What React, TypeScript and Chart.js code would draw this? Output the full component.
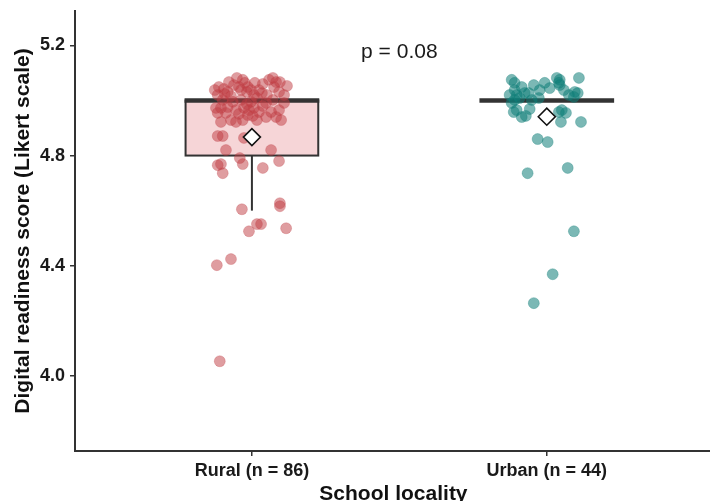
import React, { useEffect, useRef } from "react";
import { Chart, registerables } from "chart.js";

Chart.register(...registerables);

const categories = ["Rural (n = 86)", "Urban (n = 44)"];
const yTickValues = [4.0, 4.4, 4.8, 5.2];
const xTitle = "School locality";
const yTitle = "Digital readiness score (Likert scale)";
const pLabel = "p = 0.08";
const pLabelScore = 5.176;

// Box summaries per category
const q1 = [4.8, 5.0];
const medians = [5.0, 5.0];
const q3 = [5.0, 5.0];
const whiskerLow = [4.6, 5.0];
const whiskerHigh = [5.0, 5.0];
const means = [4.867, 4.941];

// Jittered observations (horizontal jitter offset, plotted score)
const ruralJitter = [
  -0.078, -0.061, -0.031, -0.024, 0.01, 0.058, 0.071, 0.082, 0.095, -0.112,
  -0.095, -0.082, -0.116, -0.044, -0.014, -0.003, 0.024, 0.034, 0.075, 0.109,
  0.007, -0.099, -0.065, -0.037, -0.003, 0.048, 0.071, 0.109, -0.122, -0.105,
  -0.082, -0.054, -0.027, -0.01, 0.007, 0.024, 0.048, 0.082, 0.099, 0.092,
  -0.105, -0.071, -0.054, -0.031, -0.014, -0.088, -0.116, -0.051, 0.037, -0.017,
  0.051, -0.071, 0.017, -0.017, 0.037, -0.044, 0.065, 0.003, -0.092, 0.119,
  -0.126, 0.092, 0.017, -0.037, -0.116, -0.099, -0.027, -0.088, 0.065, -0.041,
  -0.031, -0.116, -0.105, -0.099, 0.037, 0.092, -0.034, 0.095, 0.095, 0.017,
  0.031, -0.01, 0.116, -0.119, -0.071, -0.109,
];
const ruralScores = [
  5.067, 5.056, 5.075, 5.064, 5.064, 5.075, 5.082, 5.067, 5.067, 5.049,
  5.042, 5.031, 5.02, 5.049, 5.049, 5.038, 5.038, 5.027, 5.049, 5.02,
  5.02, 5.002, 4.995, 5.002, 4.995, 4.991, 5.002, 4.991, 4.973, 4.973,
  4.976, 4.965, 4.973, 4.965, 4.973, 4.958, 4.94, 4.94, 4.929, 4.965,
  4.922, 4.929, 4.922, 4.929, 4.947, 4.955, 4.955, 5.082, 5.06, 5.031,
  5.02, 5.016, 5.009, 4.987, 4.98, 4.951, 4.958, 4.944, 5.024, 5.053,
  5.038, 5.031, 4.929, 5.038, 4.871, 4.871, 4.864, 4.82, 4.82, 4.791,
  4.769, 4.765, 4.769, 4.736, 4.755, 4.78, 4.605, 4.627, 4.616, 4.551,
  4.551, 4.525, 4.536, 4.402, 4.424, 4.053,
];
const urbanJitter = [
  -0.119, -0.109, -0.109, -0.102, -0.085, -0.075, -0.061, -0.044, -0.024, -0.007,
  0.034, 0.044, 0.044, 0.041, 0.109, 0.075, 0.095, 0.105, 0.092, -0.027,
  -0.119, -0.109, -0.112, -0.102, -0.085, -0.071, -0.058, 0.041, 0.051, 0.065,
  0.048, 0.116, -0.031, 0.003, -0.065, 0.071, 0.092, 0.02, -0.044, -0.092,
  0.01, -0.051, 0.058, -0.126,
];
const urbanScores = [
  5.075, 5.064, 5.038, 5.02, 5.049, 5.027, 5.027, 5.056, 5.038, 5.064,
  5.082, 5.075, 5.056, 5.064, 5.082, 5.02, 5.031, 5.027, 5.013, 5.009,
  4.991, 5.002, 4.958, 4.965, 4.94, 4.944, 4.969, 4.958, 4.965, 4.955,
  4.922, 4.922, 4.86, 4.849, 4.736, 4.755, 4.525, 4.369, 4.264, 5.009,
  5.045, 5.002, 5.038, 5.02,
];

const FONT = "'Liberation Sans', Arial, Helvetica, sans-serif";
const BOX_HALF = 0.225;

const zeroPad = (s: any) => {
  s.paddingTop = 0;
  s.paddingBottom = 0;
  s.paddingLeft = 0;
  s.paddingRight = 0;
};

const boxPlugin = {
  id: "boxes",
  beforeDatasetsDraw(chart: any) {
    const { ctx, scales } = chart;
    const x = scales.x;
    const y = scales.y;
    ctx.save();
    categories.forEach((_, i) => {
      const cx = x.getPixelForValue(i + 1);
      const l = x.getPixelForValue(i + 1 - BOX_HALF);
      const r = x.getPixelForValue(i + 1 + BOX_HALF);
      const yq1 = y.getPixelForValue(q1[i]);
      const yq3 = y.getPixelForValue(q3[i]);
      const ymed = y.getPixelForValue(medians[i]);
      const ylo = y.getPixelForValue(whiskerLow[i]);
      const yhi = y.getPixelForValue(whiskerHigh[i]);
      ctx.strokeStyle = "#333333";
      ctx.lineWidth = 2;
      ctx.beginPath();
      ctx.moveTo(cx, yq1);
      ctx.lineTo(cx, ylo);
      ctx.moveTo(cx, yq3);
      ctx.lineTo(cx, yhi);
      ctx.stroke();
      if (Math.abs(yq1 - yq3) > 0.5) {
        ctx.fillStyle = i === 0 ? "#F6D5D7" : "#CFE6E5";
        ctx.fillRect(l, yq3, r - l, yq1 - yq3);
        ctx.strokeRect(l, yq3, r - l, yq1 - yq3);
      }
      ctx.lineWidth = 4.5;
      ctx.lineCap = "butt";
      ctx.beginPath();
      ctx.moveTo(l - 1, ymed);
      ctx.lineTo(r + 1, ymed);
      ctx.stroke();
    });
    ctx.restore();
  },
  afterDatasetsDraw(chart: any) {
    const { ctx, scales } = chart;
    ctx.save();
    ctx.font = `21px ${FONT}`;
    ctx.fillStyle = "#1a1a1a";
    ctx.textAlign = "center";
    ctx.textBaseline = "middle";
    ctx.fillText(pLabel, scales.x.getPixelForValue(1.5), scales.y.getPixelForValue(pLabelScore));
    ctx.restore();
  },
};

export default function App() {
  const ref = useRef<HTMLCanvasElement | null>(null);
  useEffect(() => {
    document.body.style.margin = "0";
    if (!ref.current) return;
    const rural = ruralScores.map((v, i) => ({ x: 1 + ruralJitter[i], y: v }));
    const urban = urbanScores.map((v, i) => ({ x: 2 + urbanJitter[i], y: v }));
    const meanPts = means.map((v, i) => ({ x: i + 1, y: v }));
    const chart = new Chart(ref.current, {
      type: "scatter",
      data: {
        datasets: [
          {
            label: "Mean",
            data: meanPts,
            pointStyle: "rectRot",
            pointRadius: 8.5,
            backgroundColor: "#ffffff",
            borderColor: "#111111",
            borderWidth: 1.6,
          },
          {
            label: categories[0],
            data: rural,
            pointRadius: 5.5,
            backgroundColor: "rgba(192,60,66,0.5)",
            borderColor: "rgba(192,60,66,0.25)",
            borderWidth: 1,
          },
          {
            label: categories[1],
            data: urban,
            pointRadius: 5.5,
            backgroundColor: "rgba(15,125,120,0.55)",
            borderColor: "rgba(15,125,120,0.3)",
            borderWidth: 1,
          },
        ],
      },
      options: {
        responsive: false,
        animation: false,
        events: [],
        layout: { padding: { top: 11, right: 0, left: 0, bottom: 0 } },
        plugins: { legend: { display: false }, tooltip: { enabled: false } },
        scales: {
          x: {
            type: "linear",
            min: 0.4,
            max: 2.56,
            afterBuildTicks: (s: any) => {
              s.ticks = categories.map((_, i) => ({ value: i + 1 }));
            },
            afterFit: (s: any) => {
              s.height = 50;
              zeroPad(s);
            },
            ticks: {
              autoSkip: false,
              maxRotation: 0,
              padding: 4,
              color: "#1a1a1a",
              font: { family: FONT, size: 18, weight: "bold" },
              callback: (v: any) => categories[Math.round(Number(v)) - 1] ?? "",
            },
            grid: {
              display: true,
              drawOnChartArea: false,
              drawTicks: true,
              tickLength: 5,
              color: "#333333",
              lineWidth: 1.5,
            },
            border: { display: true, color: "#333333", width: 2 },
            title: {
              display: true,
              text: xTitle,
              color: "#111111",
              font: { family: FONT, size: 21, weight: "bold", lineHeight: 1 },
              padding: { top: 0, bottom: -4 },
            },
          },
          y: {
            type: "linear",
            min: 3.727,
            max: 5.325,
            afterBuildTicks: (s: any) => {
              s.ticks = yTickValues.map((v) => ({ value: v }));
            },
            afterFit: (s: any) => {
              s.width = 75;
              zeroPad(s);
            },
            ticks: {
              padding: 5,
              color: "#1a1a1a",
              font: { family: FONT, size: 18, weight: "bold" },
              callback: (v: any) => Number(v).toFixed(1),
            },
            grid: {
              display: true,
              drawOnChartArea: false,
              drawTicks: true,
              tickLength: 5,
              color: "#333333",
              lineWidth: 1.5,
            },
            border: { display: true, color: "#333333", width: 2 },
            title: {
              display: true,
              text: yTitle,
              color: "#111111",
              font: { family: FONT, size: 21, weight: "bold", lineHeight: 1.2 },
              padding: { top: 11, bottom: 0 },
            },
          },
        },
      },
      plugins: [boxPlugin],
    });
    return () => chart.destroy();
  }, []);
  return (
    <div style={{ width: 710, height: 501, background: "#ffffff", overflow: "hidden" }}>
      <canvas ref={ref} width={722} height={501} style={{ display: "block" }} />
    </div>
  );
}
